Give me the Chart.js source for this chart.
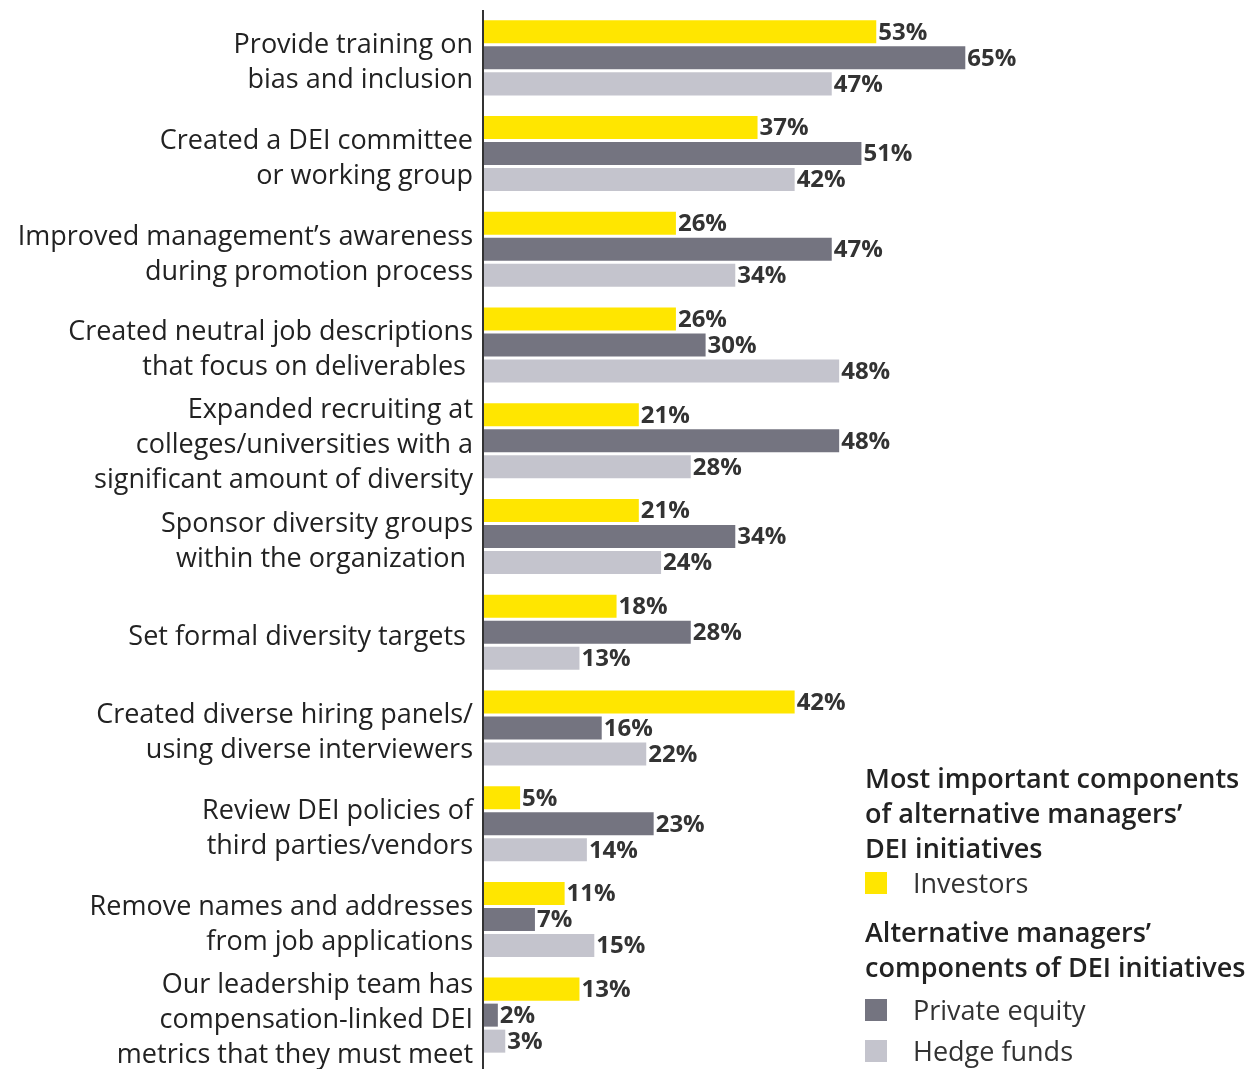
<!DOCTYPE html>
<html>
<head>
<meta charset="utf-8">
<script src="https://cdn.jsdelivr.net/npm/chart.js@4"></script>
<style>
  html, body { margin: 0; padding: 0; background: #fff; }
  #wrap { position: relative; width: 1253px; height: 1069px; overflow: hidden; }
  #legend { position: absolute; left: 865px; top: 760px; font-family: 'Open Sans', sans-serif; color: #222; }
  #legend .head { font-size: 27px; font-weight: 600; line-height: 35px; }
  #legend .item { position: relative; font-size: 27px; line-height: 35px; padding-left: 48px; color: #333; }
  #legend .item i { position: absolute; left: 0; top: 7px; width: 22px; height: 22px; }
</style>
</head>
<body>
<div id="wrap">
  <canvas id="dei" width="1253" height="1069"></canvas>
  <div id="legend">
    <div class="head">Most important components<br>of alternative managers’<br>DEI initiatives</div>
    <div class="item"><i style="background:#FFE600"></i>Investors</div>
    <div class="head" style="margin-top:14px">Alternative managers’<br>components of DEI initiatives</div>
    <div class="item" style="margin-top:8px"><i style="background:#747480"></i>Private equity</div>
    <div class="item" style="margin-top:6px"><i style="background:#C4C4CD"></i>Hedge funds</div>
  </div>
</div>
<script>
const categories = [
  ['Provide training on', 'bias and inclusion'],
  ['Created a DEI committee', 'or working group'],
  ['Improved management’s awareness', 'during promotion process'],
  ['Created neutral job descriptions', 'that focus on deliverables '],
  ['Expanded recruiting at', 'colleges/universities with a', 'significant amount of diversity'],
  ['Sponsor diversity groups', 'within the organization '],
  ['Set formal diversity targets '],
  ['Created diverse hiring panels/', 'using diverse interviewers'],
  ['Review DEI policies of', 'third parties/vendors'],
  ['Remove names and addresses', 'from job applications'],
  ['Our leadership team has', 'compensation-linked DEI', 'metrics that they must meet']
];
const investors     = [53, 37, 26, 26, 21, 21, 18, 42, 5, 11, 13];
const privateEquity = [65, 51, 47, 30, 48, 34, 28, 16, 23, 7, 2];
const hedgeFunds    = [47, 42, 34, 48, 28, 24, 13, 22, 14, 15, 3];

const AXIS_X = 483;
const LINE_H = 35;

// category text right of nothing, left of the axis; multi-line, right aligned
const categoryLabels = {
  id: 'categoryLabels',
  afterDraw(chart) {
    const ctx = chart.ctx;
    const y = chart.scales.y;
    ctx.save();
    ctx.font = '27px "Open Sans", sans-serif';
    ctx.fillStyle = '#222';
    ctx.textAlign = 'right';
    ctx.textBaseline = 'middle';
    chart.data.labels.forEach((lines, i) => {
      const cy = y.getPixelForValue(i) + 5;
      const top = cy - (lines.length - 1) * LINE_H / 2;
      lines.forEach((t, k) => ctx.fillText(t, AXIS_X - 10, top + k * LINE_H));
    });
    ctx.restore();
  }
};

// bold percentage next to each bar end, plus the vertical baseline
const barLabels = {
  id: 'barLabels',
  afterDatasetsDraw(chart) {
    const ctx = chart.ctx;
    ctx.save();
    ctx.font = 'bold 24px "Open Sans", sans-serif';
    ctx.fillStyle = '#333';
    ctx.textBaseline = 'middle';
    chart.data.datasets.forEach((ds, i) => {
      chart.getDatasetMeta(i).data.forEach((bar, j) => {
        ctx.fillText(ds.data[j] + '%', bar.x + 2, bar.y + 1);
      });
    });
    ctx.strokeStyle = '#333';
    ctx.lineWidth = 2;
    ctx.beginPath();
    ctx.moveTo(chart.chartArea.left, 10);
    ctx.lineTo(chart.chartArea.left, 1069);
    ctx.stroke();
    ctx.restore();
  }
};

new Chart(document.getElementById('dei'), {
  type: 'bar',
  data: {
    labels: categories,
    datasets: [
      { label: 'Investors', data: investors, backgroundColor: '#FFE600' },
      { label: 'Private equity', data: privateEquity, backgroundColor: '#747480' },
      { label: 'Hedge funds', data: hedgeFunds, backgroundColor: '#C4C4CD' }
    ]
  },
  options: {
    indexAxis: 'y',
    responsive: false,
    animation: false,
    layout: { padding: { top: 10, bottom: 6, right: 28, left: AXIS_X } },
    datasets: { bar: { categoryPercentage: 0.815, barPercentage: 0.885 } },
    plugins: { legend: { display: false }, tooltip: { enabled: false } },
    scales: {
      x: { display: false, min: 0, max: 100 },
      y: { display: false }
    }
  },
  plugins: [barLabels, categoryLabels]
});
</script>
</body>
</html>
